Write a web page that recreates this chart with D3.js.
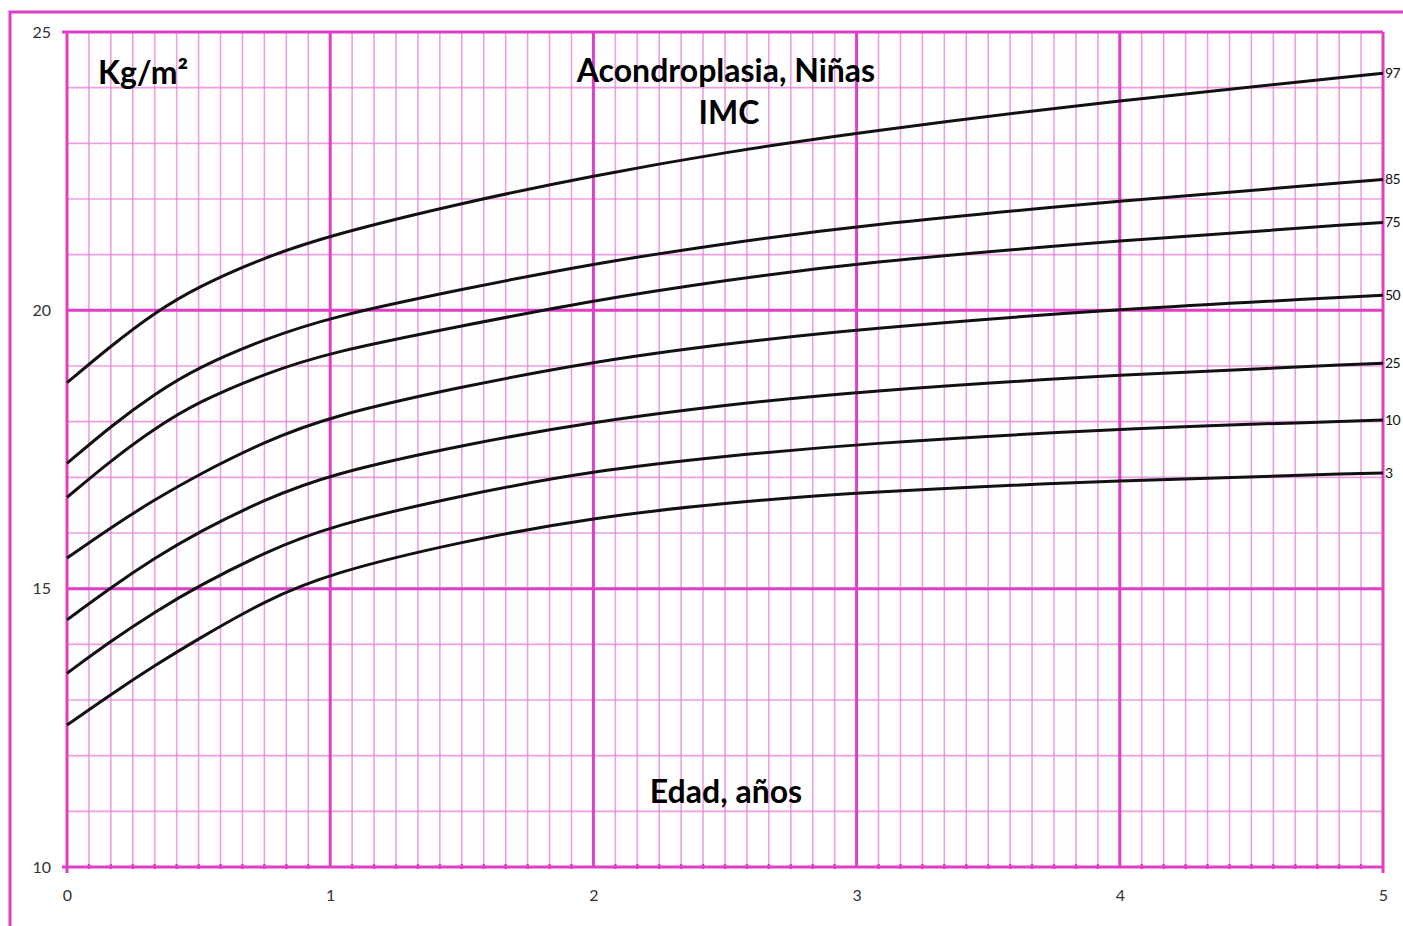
<!DOCTYPE html>
<html>
<head>
<meta charset="utf-8">
<script src="https://cdn.jsdelivr.net/npm/d3@7"></script>
<style>
  html, body { margin: 0; padding: 0; background: #fff; }
  svg { display: block; }
</style>
</head>
<body>
<svg id="chart" width="1403" height="926"></svg>
<script>
// ---- Data ----
const ages = [0, 0.1667, 0.3333, 0.5, 0.75, 1, 1.5, 2, 2.5, 3, 4, 5];
const p97 = [18.70, 19.36, 19.96, 20.43, 20.95, 21.35, 21.93, 22.42, 22.84, 23.19, 23.78, 24.26];
const p85 = [17.25, 17.92, 18.50, 18.98, 19.48, 19.88, 20.38, 20.84, 21.20, 21.52, 21.97, 22.35];
const p75 = [16.64, 17.30, 17.88, 18.36, 18.86, 19.25, 19.72, 20.18, 20.54, 20.85, 21.26, 21.58];
const p50 = [15.55, 16.10, 16.60, 17.05, 17.64, 18.10, 18.63, 19.08, 19.40, 19.66, 20.03, 20.27];
const p25 = [14.44, 15.02, 15.55, 16.02, 16.60, 17.06, 17.58, 18.00, 18.30, 18.54, 18.85, 19.05];
const p10 = [13.48, 14.06, 14.58, 15.05, 15.65, 16.13, 16.68, 17.12, 17.38, 17.60, 17.88, 18.03];
const p3  = [12.55, 13.10, 13.62, 14.10, 14.78, 15.28, 15.85, 16.28, 16.54, 16.73, 16.95, 17.08];
const seriesNames = ["97", "85", "75", "50", "25", "10", "3"];
const seriesValues = [p97, p85, p75, p50, p25, p10, p3];
const xTicks = [0, 1, 2, 3, 4, 5];
const yTicks = [10, 15, 20, 25];
const title1 = "Acondroplasia, Niñas";
const title2 = "IMC";
const yUnit = "Kg/m²";
const xTitle = "Edad, años";

// ---- Layout ----
const svg = d3.select("#chart");
const pLeft = 67, pRight = 1383, pTop = 32, pBottom = 867;
const x = d3.scaleLinear().domain([0, 5]).range([pLeft, pRight]);
const y = d3.scaleLinear().domain([10, 25]).range([pBottom, pTop]);

const majorColor = "#df3ec6";
const minorColor = "#e77fd6";

// outer border
svg.append("rect")
  .attr("x", 10).attr("y", 12)
  .attr("width", 1410).attr("height", 930)
  .attr("fill", "none").attr("stroke", majorColor).attr("stroke-width", 3);

const grid = svg.append("g");
// minor verticals (monthly)
const months = d3.range(0, 61).filter(m => m % 12 !== 0);
grid.selectAll("line.vmin").data(months).join("line")
  .attr("x1", m => x(m / 12)).attr("x2", m => x(m / 12))
  .attr("y1", pTop).attr("y2", pBottom)
  .attr("stroke", minorColor).attr("stroke-width", 1.6).attr("stroke-opacity", 0.75);
// minor horizontals (1 unit)
const units = d3.range(11, 25).filter(v => v % 5 !== 0);
grid.selectAll("line.hmin").data(units).join("line")
  .attr("x1", pLeft).attr("x2", pRight)
  .attr("y1", v => y(v)).attr("y2", v => y(v))
  .attr("stroke", minorColor).attr("stroke-width", 1.6).attr("stroke-opacity", 0.75);
// minor tick marks at the bottom
grid.selectAll("line.tmin").data(months).join("line")
  .attr("x1", m => x(m / 12)).attr("x2", m => x(m / 12))
  .attr("y1", pBottom - 3).attr("y2", pBottom + 2)
  .attr("stroke", majorColor).attr("stroke-width", 2.5);
// major verticals
grid.selectAll("line.vmaj").data(xTicks).join("line")
  .attr("x1", d => x(d)).attr("x2", d => x(d))
  .attr("y1", pTop).attr("y2", d => (d === 0 || d === 5) ? pBottom + 6 : pBottom)
  .attr("stroke", majorColor).attr("stroke-width", 3);
// major horizontals
grid.selectAll("line.hmaj").data(yTicks).join("line")
  .attr("x1", d => (d === 10 || d === 25) ? pLeft - 5 : pLeft).attr("x2", pRight)
  .attr("y1", d => y(d)).attr("y2", d => y(d))
  .attr("stroke", majorColor).attr("stroke-width", 3);

// axis labels through d3 axes
const yAxis = svg.append("g").attr("transform", `translate(${pLeft - 6},0)`)
  .call(d3.axisLeft(y).tickValues(yTicks).tickFormat(d3.format("d")).tickSize(0).tickPadding(10));
const xAxis = svg.append("g").attr("transform", `translate(0,${pBottom + 20})`)
  .call(d3.axisBottom(x).tickValues(xTicks).tickFormat(d3.format("d")).tickSize(0).tickPadding(3));
[yAxis, xAxis].forEach(a => {
  a.select(".domain").remove();
  a.selectAll("text").attr("font-family", "Lato, 'Open Sans', sans-serif")
    .attr("font-size", 16).attr("fill", "#333");
});

// curves
const line = d3.line().x((d, i) => x(ages[i])).y(d => y(d)).curve(d3.curveBasis);
svg.append("g").selectAll("path").data(seriesValues).join("path")
  .attr("d", d => line(d))
  .attr("fill", "none").attr("stroke", "#111").attr("stroke-width", 3);

// right labels
svg.append("g").selectAll("text").data(seriesValues).join("text")
  .attr("x", pRight + 2)
  .attr("y", d => y(d[d.length - 1]))
  .attr("dy", "0.35em")
  .attr("font-family", "Lato, 'Open Sans', sans-serif").attr("font-size", 14)
  .attr("letter-spacing", -0.5).attr("fill", "#111")
  .text((d, i) => seriesNames[i]);

// titles
const tf = "Lato, 'Open Sans', sans-serif";
const fs = 32;
svg.append("text").attr("x", 726).attr("y", 82).attr("text-anchor", "middle")
  .attr("font-family", tf).attr("font-weight", "bold").attr("font-size", fs).attr("fill", "#000")
  .text(title1);
svg.append("text").attr("x", 729).attr("y", 124).attr("text-anchor", "middle")
  .attr("font-family", tf).attr("font-weight", "bold").attr("font-size", fs).attr("fill", "#000")
  .text(title2);
svg.append("text").attr("x", 98).attr("y", 84)
  .attr("font-family", tf).attr("font-weight", "bold").attr("font-size", fs).attr("fill", "#000")
  .text(yUnit);
svg.append("text").attr("x", 726).attr("y", 803).attr("text-anchor", "middle")
  .attr("font-family", tf).attr("font-weight", "bold").attr("font-size", fs).attr("fill", "#000")
  .text(xTitle);
</script>
</body>
</html>
